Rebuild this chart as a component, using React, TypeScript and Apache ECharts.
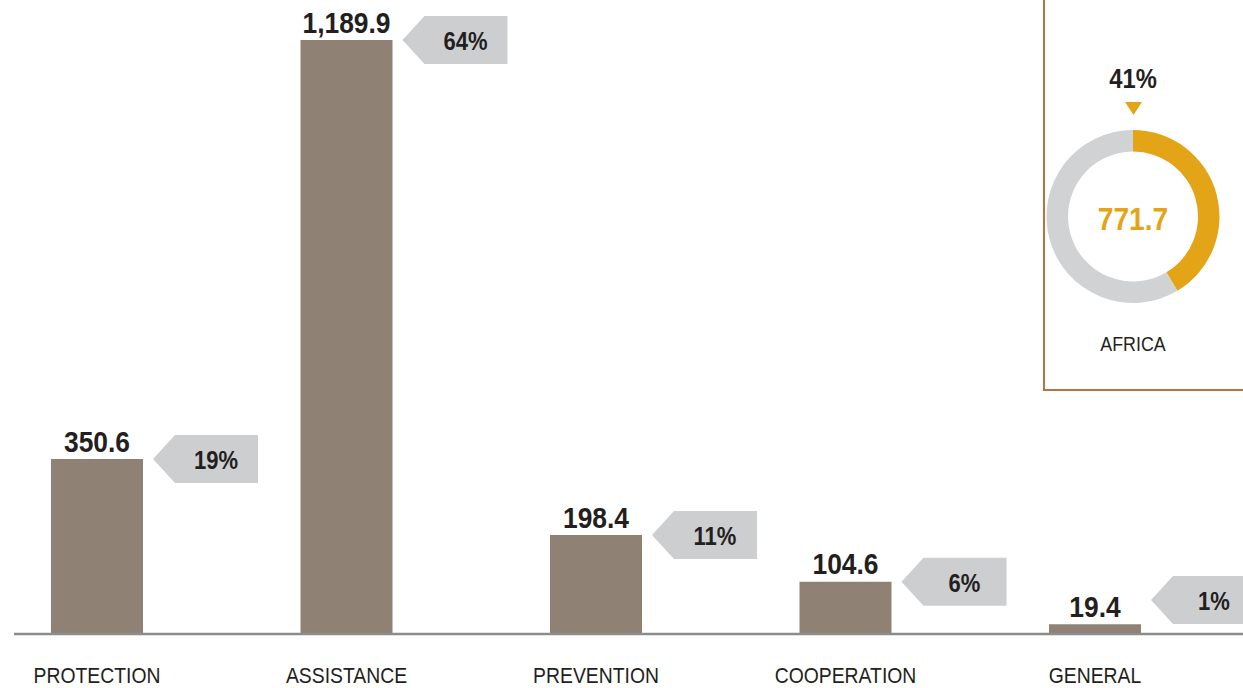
import React, { useEffect, useRef } from "react";
import * as echarts from "echarts";

const categories = ["PROTECTION", "ASSISTANCE", "PREVENTION", "COOPERATION", "GENERAL"];
const amounts = [350.6, 1189.9, 198.4, 104.6, 19.4];
const shares = [19, 64, 11, 6, 1];
const africaAmount = 771.7;
const africaShare = 41;
const africaLabel = "AFRICA";

const FONT = "'Liberation Sans', Arial, sans-serif";
const SX = 0.88;
const DARK = "#231F20";
const BAR = "#8F8275";
const TAG = "#CDCED0";
const ORANGE = "#E3A517";
const DONUT_GREY = "#D1D2D4";

export default function App() {
  const ref = useRef<HTMLDivElement>(null);
  useEffect(() => {
    if (!ref.current) return;
    const chart = echarts.init(ref.current, undefined, { renderer: "svg" });
    const total = amounts.reduce((a, b) => a + b, 0);
    const fmt = (v: number) =>
      v.toLocaleString("en-US", { minimumFractionDigits: 1, maximumFractionDigits: 1 });

    const ctext = (text: string, x: number, y: number, font: string, fill: string, sx = SX) => ({
      type: "text",
      x,
      y,
      scaleX: sx,
      style: { text, x: 0, y: 0, fill, font, align: "center", verticalAlign: "middle" },
    });

    chart.setOption({
      animation: false,
      grid: {
        left: -27.75,
        right: 23.25,
        top: 0,
        bottom: 54,
        containLabel: false,
        outerBoundsMode: "none",
      },
      xAxis: {
        type: "category",
        data: categories,
        axisLine: { show: false },
        axisTick: { show: false },
        axisLabel: { show: false },
      },
      yAxis: {
        type: "value",
        min: 0,
        max: 1270,
        show: false,
        splitLine: { show: false },
      },
      graphic: [
        {
          type: "line",
          shape: { x1: 14, y1: 634, x2: 1243, y2: 634 },
          style: { stroke: "#8C8C8C", lineWidth: 2.5 },
          z: 10,
        },
        {
          type: "polyline",
          shape: { points: [[1044, 0], [1044, 390], [1250, 390]] },
          style: { stroke: "#B8743F", lineWidth: 2, fill: null },
        },
        ctext(africaShare + "%", 1133, 78, "bold 27px " + FONT, DARK),
        {
          type: "polygon",
          shape: { points: [[1125, 102], [1142, 102], [1133.5, 115]] },
          style: { fill: ORANGE },
        },
        ctext(fmt(africaAmount), 1133, 219, "bold 32px " + FONT, ORANGE),
        ctext(africaLabel, 1133, 343, "21px " + FONT, DARK, 0.85),
      ],
      series: [
        {
          type: "bar",
          data: amounts,
          barWidth: 92,
          itemStyle: { color: BAR },
        },
        {
          type: "custom",
          clip: false,
          z: 5,
          data: amounts.map((v, i) => [i, v, shares[i]]),
          renderItem: (params: any, api: any) => {
            const idx = api.value(0);
            const [cx, py] = api.coord([idx, api.value(1)]);
            const base = api.coord([idx, 0])[1];
            const y = Math.min(py, base - 34);
            const h = 24;
            return {
              type: "group",
              children: [
                {
                  type: "polygon",
                  shape: {
                    points: [
                      [cx + 56, y],
                      [cx + 78, y - h],
                      [cx + 161, y - h],
                      [cx + 161, y + h],
                      [cx + 78, y + h],
                    ],
                  },
                  style: { fill: TAG },
                },
                ctext(api.value(2) + "%", cx + 119, y + 2, "bold 25px " + FONT, DARK),
                ctext(fmt(api.value(1)), cx, py - 18, "bold 30px " + FONT, DARK),
                ctext(categories[idx], cx, base + 41, "22px " + FONT, DARK),
              ],
            };
          },
        },
        {
          type: "pie",
          center: [1133, 216.5],
          radius: [65, 86.5],
          startAngle: 90,
          clockwise: true,
          silent: true,
          label: { show: false },
          labelLine: { show: false },
          data: [
            { value: africaAmount, name: africaLabel, itemStyle: { color: ORANGE } },
            { value: total - africaAmount, name: "Other", itemStyle: { color: DONUT_GREY } },
          ],
        },
      ],
    });
    return () => chart.dispose();
  }, []);
  return (
    <div
      ref={ref}
      style={{ position: "fixed", left: 0, top: 0, width: 1243, height: 688, background: "#fff" }}
    />
  );
}
